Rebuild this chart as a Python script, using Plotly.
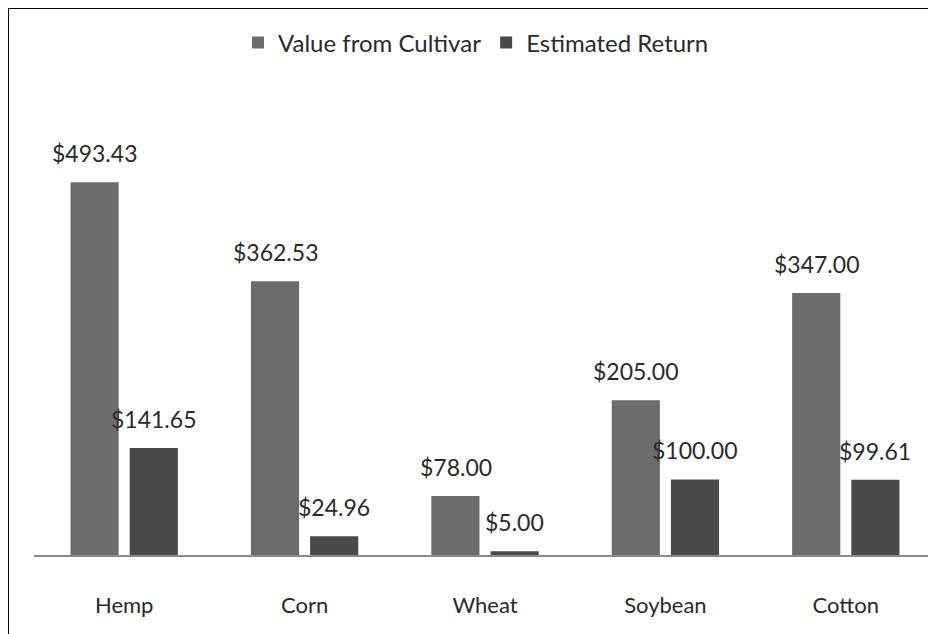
import plotly.graph_objects as go

crops = ['Hemp', 'Corn', 'Wheat', 'Soybean', 'Cotton']
value_from_cultivar = [493.43, 362.53, 78.00, 205.00, 347.00]
estimated_return = [141.65, 24.96, 5.00, 100.00, 99.61]

# page body has an 8px margin, so the figure is sized to fill the rest
W, H = 928, 626
ml, mr, mt, mb = 26, 0, 124, 79
pw, ph = W - ml - mr, H - mt - mb

fig = go.Figure()
fig.add_trace(go.Bar(
    x=crops, y=value_from_cultivar, name='Value from Cultivar',
    marker=dict(color='#6c6c6c', line=dict(width=0)),
))
fig.add_trace(go.Bar(
    x=crops, y=estimated_return, name='Estimated Return',
    marker=dict(color='#4a4a4a', line=dict(width=0)),
))

# value labels sit well above the bars, like the Excel original
for values, shift in [(value_from_cultivar, -29.5), (estimated_return, 29.5)]:
    for crop, v in zip(crops, values):
        fig.add_annotation(
            x=crop, y=v, text=f'${v:,.2f}', showarrow=False,
            xshift=shift, yshift=13, yanchor='bottom',
            font=dict(size=23, color='#2a2a2a'),
        )

# chart frame: only the top and left edges are visible in the crop
fig.add_shape(type='line', xref='paper', yref='paper', layer='above',
              x0=-ml / pw, x1=1, y0=1 + mt / ph, y1=1 + mt / ph,
              line=dict(color='black', width=2))
fig.add_shape(type='line', xref='paper', yref='paper', layer='above',
              x0=-ml / pw, x1=-ml / pw, y0=-mb / ph, y1=1 + mt / ph,
              line=dict(color='black', width=2))

fig.update_layout(
    width=W, height=H,
    margin=dict(l=ml, r=mr, t=mt, b=mb, autoexpand=False),
    paper_bgcolor='white', plot_bgcolor='white',
    font=dict(family='Lato, Open Sans, sans-serif', size=22, color='#2a2a2a'),
    barmode='group', bargap=0.344, bargroupgap=0.186,
    showlegend=True,
    legend=dict(orientation='h', x=(468 - ml) / pw, xanchor='center',
                y=1 + (mt - 35) / ph, yanchor='middle',
                font=dict(size=24), itemwidth=30),
    xaxis=dict(showline=True, linecolor='#8a8a8a', linewidth=1.5, ticks='',
               showgrid=False, ticklabelstandoff=30, tickfont=dict(size=22),
               automargin=False),
    yaxis=dict(range=[0, 560], visible=False, showgrid=False, zeroline=False,
               automargin=False),
)

fig.write_html('out.html')
